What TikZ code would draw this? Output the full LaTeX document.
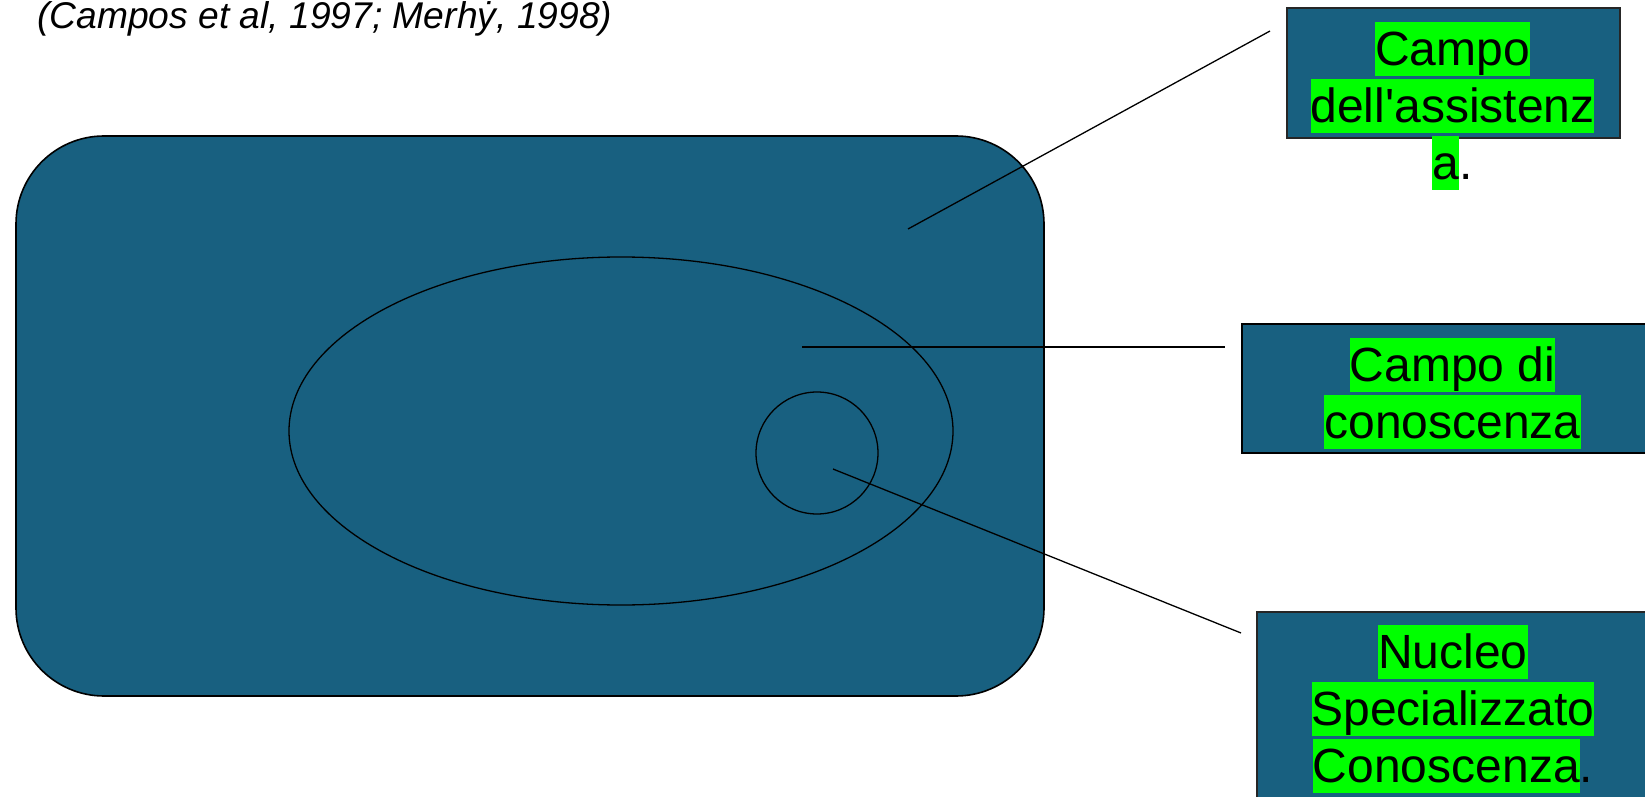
\documentclass[tikz,border=0pt]{standalone}
\usepackage{fontspec}
\setmainfont{Liberation Sans}[Ligatures=TeXOff]
\usepackage{xcolor}
\usetikzlibrary{positioning}
\definecolor{campoblue}{RGB}{24,96,128}
\definecolor{hlgreen}{RGB}{0,255,0}
\newcommand{\hl}[1]{{\setlength{\fboxsep}{0pt}\colorbox{hlgreen}{\rule[-5.5pt]{0pt}{27pt}#1}}}

\begin{document}
\begin{tikzpicture}[x=0.5pt,y=-0.5pt,
  box/.style={draw=black!85, line width=1pt, fill=campoblue, anchor=north west, inner sep=0pt},
  hltext/.style={anchor=north, inner sep=0pt, align=center, font=\fontsize{24}{28.5}\selectfont},
  leader/.style={line width=0.65pt}]
  \clip (0,0) rectangle (1645,797);
  \fill[white] (0,0) rectangle (1645,797);

  \node[anchor=base west, inner sep=0pt, font=\itshape\fontsize{18.6}{20}\selectfont] (cite) at (37,29) {(Campos et al, 1997; Merh\.{y}, 1998)};

  % fields
  \draw[fill=campoblue, line width=0.8pt, rounded corners=44pt] (16,136) rectangle (1044,696);
  \draw[leader] (621,431) ellipse [x radius=332, y radius=174];
  \draw[leader] (817,453) circle [radius=61];

  % boxes on the right
  \node[box, minimum width=166.5pt, minimum height=65pt] (assist) at (1286,7) {};
  \node[box, draw=black, minimum width=211.5pt, minimum height=64.5pt] (conosc) at (1241,323) {};
  \node[box, minimum width=197pt, minimum height=110pt] (nucleo) at (1256,611) {};

  \node[hltext] (assisttxt) at (1452.5,22) {\hl{Campo}\\\hl{dell'assistenz}\\\hl{a}.};
  \node[hltext] (conosctxt) at (1452.5,338) {\hl{Campo di}\\\hl{conoscenza}};
  \node[hltext] (nucleotxt) at (1453,625) {\hl{Nucleo}\\\hl{Specializzato}\\\hl{Conoscenza}.};

  % leaders
  \coordinate (p1) at (908,229);
  \coordinate (p2) at (802,347);
  \coordinate (p3) at (833,469);
  \coordinate (q1) at (1270,31);
  \coordinate (q2) at (1225,347);
  \coordinate (q3) at (1241,633);
  \draw[leader] (p1) -- (q1);
  \draw[leader] (p2) -- (q2);
  \draw[leader] (p3) -- (q3);
\end{tikzpicture}
\end{document}
